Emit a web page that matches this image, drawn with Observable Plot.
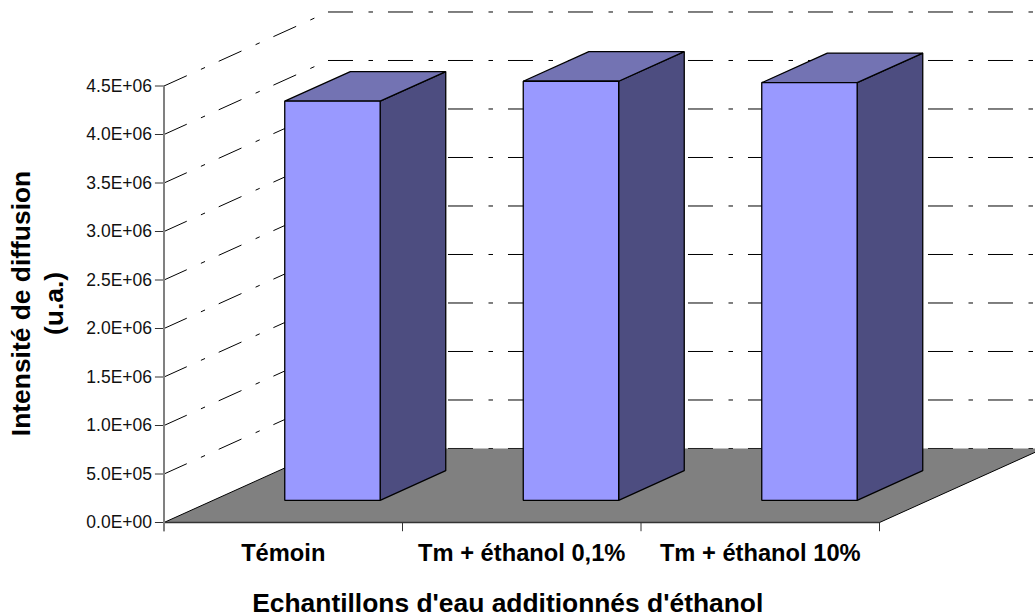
<!DOCTYPE html>
<html><head><meta charset="utf-8">
<script src="https://cdn.jsdelivr.net/npm/d3@7"></script>
<script src="https://cdn.jsdelivr.net/npm/@observablehq/plot@0.6"></script>
<style>html,body{margin:0;padding:0;background:#fff}svg{display:block}</style>
</head><body><div id="c"></div>
<script>
const categories = ["Témoin", "Tm + éthanol 0,1%", "Tm + éthanol 10%"];
const values = [4115000, 4320000, 4305000];
const tickValues = [0, 5e5, 1e6, 1.5e6, 2e6, 2.5e6, 3e6, 3.5e6, 4e6, 4.5e6];
const tickLabels = ["0.0E+00","5.0E+05","1.0E+06","1.5E+06","2.0E+06","2.5E+06","3.0E+06","3.5E+06","4.0E+06","4.5E+06"];
const xTitle = "Echantillons d'eau additionnés d'éthanol";
const yTitle = "Intensité de diffusion\n(u.a.)";

// oblique projection: depth 0 = front plane, depth 1 = back wall
const depthX = 0.6876, depthY = 762900;
const P = (x, v, d) => ({x: x + d * depthX, y: v + d * depthY});
const bw = 0.4, b0 = 0.3, d0 = 0.3, d1 = 0.7;

const faces = (v, i) => {
  const xa = i + b0, xb = xa + bw, base = 0;
  return {
    front: [P(xa, base, d0), P(xb, base, d0), P(xb, v, d0), P(xa, v, d0)],
    side: [P(xb, base, d0), P(xb, base, d1), P(xb, v, d1), P(xb, v, d0)],
    top: [P(xa, v, d0), P(xb, v, d0), P(xb, v, d1), P(xa, v, d1)]
  };
};
const tag = (k) => values.flatMap((v, i) => faces(v, i)[k].map(p => ({...p, id: i})));
const floorPts = [P(0,0,0), P(3,0,0), P(3,0,1), P(0,0,1)];
const dash = "25 15.5 4.5 15";
const backGrid = tickValues.slice(1).flatMap(v => [P(0,v,1), P(3,v,1)].map(p => ({...p, id: "b" + v})));
const sideGrid = tickValues.slice(1).flatMap(v => [P(0,v,0), P(0,v,1)].map(p => ({...p, id: "s" + v})));
const yTicks = tickValues.flatMap(v => [{x:-0.038,y:v,id:v},{x:0,y:v,id:v}]);
const xTicks = [0,1,2,3].flatMap(i => [{x:i,y:0,id:i},{x:i,y:-90000,id:i}]);
const poly = {x:"x", y:"y", z:"id", curve:"linear-closed", stroke:"#000", strokeLinejoin:"miter"};

const chart = Plot.plot({
  width: 1035, height: 616, margin: 0,
  style: {fontFamily: "'Liberation Sans', Arial, sans-serif", background: "#fff", overflow: "hidden"},
  x: {type:"linear", domain:[0,3], range:[163.5,879], axis:null},
  y: {type:"linear", domain:[0,4.5e6], range:[522,85.5], axis:null},
  marks: [
    Plot.line(backGrid.concat(sideGrid), {x:"x", y:"y", z:"id", stroke:"#000", strokeWidth:1, strokeDasharray:dash, strokeLinecap:"butt"}),
    Plot.line(floorPts.map(p => ({...p, id:0})), {...poly, fill:"#808080", strokeWidth:1, stroke:"none"}),
    Plot.line([P(0,0,0),P(0,0,1)], {x:"x", y:"y", stroke:"#000", strokeWidth:1}),
    Plot.line([P(3,0,0),P(3,0,1)], {x:"x", y:"y", stroke:"#000", strokeWidth:1}),
    Plot.line([P(0,0,1),P(3,0,1)], {x:"x", y:"y", stroke:"#222", strokeWidth:1, strokeDasharray:dash, strokeLinecap:"butt"}),
    Plot.line(yTicks, {x:"x", y:"y", z:"id", stroke:"#333", strokeWidth:1, strokeLinecap:"butt"}),
    Plot.line(xTicks, {x:"x", y:"y", z:"id", stroke:"#333", strokeWidth:1, strokeLinecap:"butt"}),
    Plot.line([{x:0,y:0},{x:3,y:0}], {x:"x", y:"y", stroke:"#333", strokeWidth:1.5, strokeLinecap:"butt"}),
    Plot.line([{x:0,y:-90000},{x:0,y:4.5e6}], {x:"x", y:"y", stroke:"#808080", strokeWidth:2, strokeLinecap:"butt"}),
    Plot.line(tag("side"), {...poly, fill:"#4D4D80", strokeWidth:1.3}),
    Plot.line(tag("top"), {...poly, fill:"#7373B3", strokeWidth:1.3}),
    Plot.line(tag("front"), {...poly, fill:"#9999FF", strokeWidth:1.3}),
    Plot.text(tickValues, {x:()=>0, y:d=>d, text:(d,i)=>tickLabels[i], textAnchor:"end", dx:-12, fontSize:17.5, fill:"#111"}),
    Plot.text(categories, {x:(d,i)=>i+0.5, y:()=>0, text:d=>d, dy:31, fontSize:23.7, fontWeight:"bold", fill:"#000"}),
    Plot.text([xTitle], {x:()=>1.5, y:()=>0, text:d=>d, dx:-14, dy:81.5, fontSize:26.4, fontWeight:"bold", fill:"#000"}),
    Plot.text([yTitle], {x:()=>0, y:()=>2258000, text:d=>d, dx:-128, rotate:-90, fontSize:26.4, lineHeight:1.25, fontWeight:"bold", fill:"#000"})
  ]
});
document.getElementById("c").appendChild(chart);
</script></body></html>
